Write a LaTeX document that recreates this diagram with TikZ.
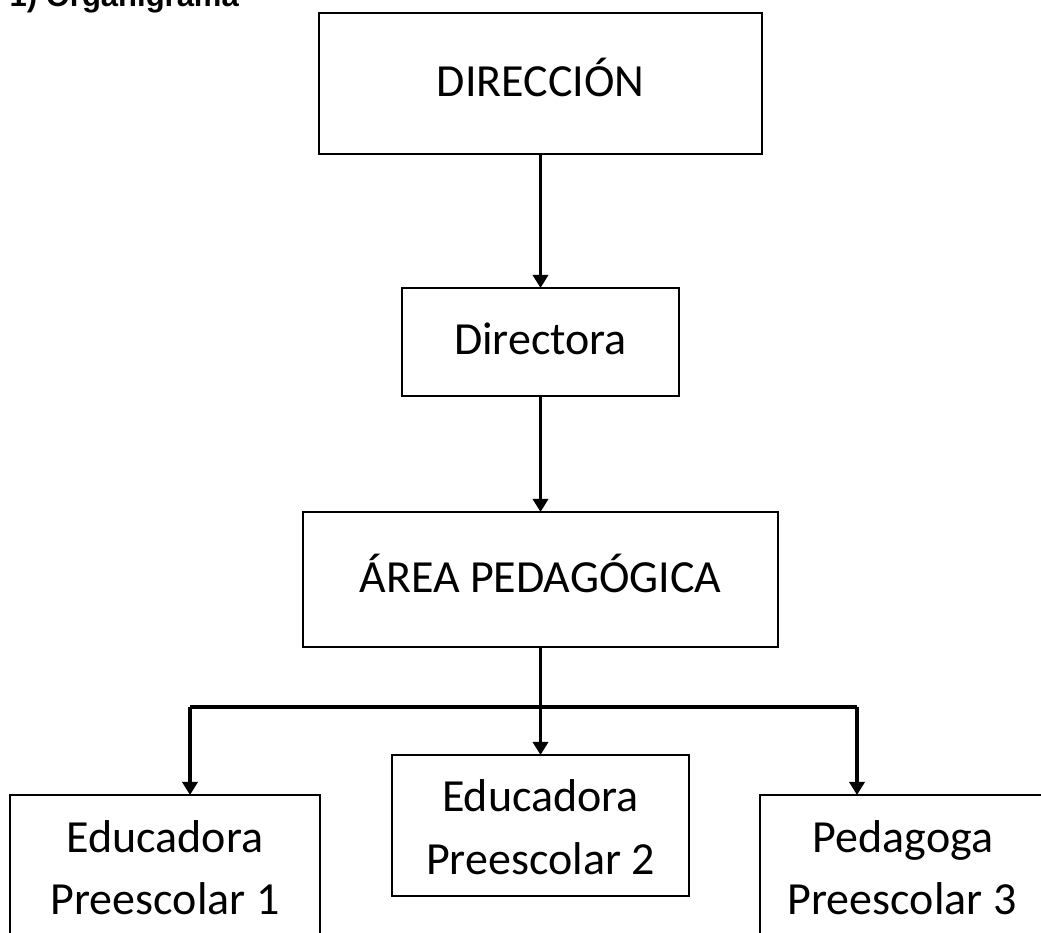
\documentclass[tikz,border=0pt]{standalone}
\usepackage{fontspec}
\setmainfont{Carlito}
\newfontfamily\titlefont{Liberation Sans}
\usetikzlibrary{arrows.meta}
\begin{document}
\begin{tikzpicture}[x=1pt,y=1pt,
  box/.style={draw=black,line width=2pt,fill=white,inner sep=0pt,outer sep=0pt},
  lbl/.style={anchor=base,inner sep=0pt,font=\fontsize{46}{63}\selectfont},
  conn/.style={line width=3.5pt,draw=black},
  arr/.style={conn,-{Triangle[length=13pt,width=15pt]}}]
\useasboundingbox (0,0) rectangle (1041,933);
\clip (0,0) rectangle (1041,933);
% title (cut off at top)
\node[anchor=base west,inner sep=0pt,font=\titlefont\bfseries\fontsize{31}{36}\selectfont] (title) at (9.5,926) {1) Organigrama};
% boxes
\node[box,minimum width=443pt,minimum height=141pt] (dir) at (540.5,849.5) {};
\node[lbl] (dirt) at (540.5,836) {DIRECCIÓN};
\node[box,minimum width=277pt,minimum height=108pt] (dra) at (540.5,591) {};
\node[lbl] (drat) at (540.5,578) {Directora};
\node[box,minimum width=475pt,minimum height=135pt] (area) at (540.5,353.5) {};
\node[lbl] (areat) at (540.5,340) {ÁREA PEDAGÓGICA};
\node[box,minimum width=310pt,minimum height=205pt] (e1) at (165,35.5) {};
\node[lbl] (e1a) at (165,80) {Educadora};
\node[lbl] (e1b) at (165,18) {Preescolar 1};
\node[box,minimum width=297pt,minimum height=141pt] (e2) at (540.5,107.5) {};
\node[lbl] (e2a) at (540.5,121) {Educadora};
\node[lbl] (e2b) at (540.5,58) {Preescolar 2};
\node[box,minimum width=284pt,minimum height=205pt] (e3) at (902,35.5) {};
\node[lbl] (e3a) at (903,80) {Pedagoga};
\node[lbl] (e3b) at (902,18) {Preescolar 3};
% connectors
\coordinate (jl) at (190,226);
\coordinate (jr) at (857,226);
\draw[arr] (dir.south) -- (dra.north);
\draw[arr] (dra.south) -- (area.north);
\draw[arr] (area.south) -- (e2.north);
\draw[conn] (jl) -- (jr);
\draw[arr] (jl) -- (jl |- e1.north);
\draw[arr] (jr) -- (jr |- e3.north);
\end{tikzpicture}
\end{document}
